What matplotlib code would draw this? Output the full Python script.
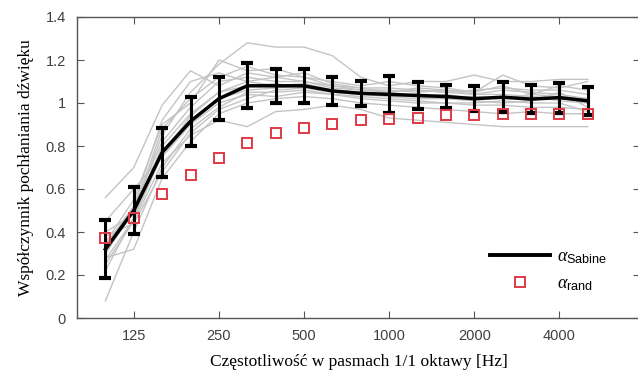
import numpy as np
import matplotlib
matplotlib.use("Agg")
import matplotlib.pyplot as plt
from matplotlib.lines import Line2D

plt.rcParams["mathtext.fontset"] = "custom"
plt.rcParams["mathtext.it"] = "Liberation Serif:italic"
plt.rcParams["mathtext.rm"] = "Liberation Sans"
plt.rcParams["mathtext.sf"] = "Liberation Sans"

# 1/3 octave bands
freqs = [100, 125, 160, 200, 250, 315, 400, 500, 630, 800,
         1000, 1250, 1600, 2000, 2500, 3150, 4000, 5000]
tick_labels = ["125", "250", "500", "1000", "2000", "4000"]
tick_freqs = [125, 250, 500, 1000, 2000, 4000]

alpha_sabine = [0.32, 0.50, 0.77, 0.915, 1.02, 1.08, 1.08, 1.08, 1.056, 1.045,
                1.04, 1.035, 1.03, 1.02, 1.027, 1.018, 1.025, 1.01]
alpha_err = [0.135, 0.11, 0.115, 0.115, 0.10, 0.105, 0.08, 0.08, 0.065, 0.057,
             0.085, 0.062, 0.055, 0.057, 0.07, 0.065, 0.07, 0.066]
alpha_rand = [0.372, 0.465, 0.577, 0.665, 0.744, 0.814, 0.860, 0.884, 0.902, 0.921,
              0.925, 0.930, 0.944, 0.944, 0.948, 0.950, 0.950, 0.950]

# single measurements (gray)
s1 = [0.30, 0.50, 0.85, 1.05, 1.18, 1.28, 1.26, 1.26, 1.22, 1.12, 1.08, 1.10, 1.10, 1.13, 1.10, 1.10, 1.11, 1.11]
s2 = [0.56, 0.70, 0.99, 1.15, 1.08, 1.14, 1.12, 1.10, 1.07, 1.06, 1.05, 1.06, 1.05, 1.04, 1.06, 1.05, 1.04, 1.02]
s3 = [0.25, 0.45, 0.72, 0.85, 0.92, 0.89, 0.96, 0.97, 0.99, 0.97, 0.93, 0.92, 0.91, 0.90, 0.89, 0.89, 0.89, 0.89]
s4 = [0.08, 0.40, 0.70, 0.88, 0.98, 1.05, 1.05, 1.06, 1.04, 1.02, 1.01, 1.00, 1.00, 0.99, 0.99, 0.98, 0.98, 0.97]
s5 = [0.28, 0.32, 0.65, 0.82, 0.95, 1.00, 1.02, 1.03, 1.02, 1.00, 0.99, 0.98, 0.97, 0.96, 0.95, 0.96, 0.95, 0.95]
s6 = [0.35, 0.55, 0.90, 1.00, 1.20, 1.15, 1.16, 1.12, 1.10, 1.08, 1.10, 1.08, 1.07, 1.05, 1.13, 1.08, 1.07, 1.10]
s7 = [0.40, 0.48, 0.80, 0.95, 1.05, 1.10, 1.08, 1.09, 1.06, 1.05, 1.04, 1.03, 1.04, 1.02, 1.03, 1.02, 1.03, 1.00]
s8 = [0.22, 0.47, 0.78, 0.92, 1.02, 1.06, 1.07, 1.08, 1.05, 1.04, 1.03, 1.02, 1.02, 1.01, 1.00, 1.01, 1.05, 0.98]
s9 = [0.32, 0.52, 0.82, 0.98, 1.10, 1.12, 1.10, 1.10, 1.08, 1.06, 1.06, 1.05, 1.06, 1.04, 1.04, 1.03, 1.02, 1.01]
s10 = [0.45, 0.60, 0.75, 0.90, 1.00, 1.04, 1.03, 1.05, 1.04, 1.03, 1.02, 1.01, 1.00, 1.00, 1.01, 1.00, 1.00, 0.96]
s11 = [0.38, 0.44, 0.68, 0.86, 0.97, 1.02, 1.06, 1.07, 1.06, 1.05, 1.03, 1.04, 1.03, 1.03, 1.02, 1.04, 1.03, 1.02]
s12 = [0.30, 0.50, 0.88, 1.02, 1.12, 1.17, 1.13, 1.12, 1.08, 1.07, 1.07, 1.06, 1.05, 1.06, 1.07, 1.06, 1.06, 1.04]
s13 = [0.27, 0.46, 0.76, 0.94, 1.05, 1.08, 1.09, 1.07, 1.05, 1.04, 1.05, 1.03, 1.02, 1.03, 1.02, 1.03, 1.01, 1.00]
s14 = [0.34, 0.52, 0.92, 1.10, 1.14, 1.10, 1.12, 1.14, 1.09, 1.07, 1.05, 1.07, 1.06, 1.05, 1.08, 1.04, 1.08, 1.06]
singles = [s1, s2, s3, s4, s5, s6, s7, s8, s9, s10, s11, s12, s13, s14]

x = np.arange(len(freqs))
tick_pos = [freqs.index(f) for f in tick_freqs]

fig = plt.figure(figsize=(6.38, 3.77), dpi=100)
ax = fig.add_axes([77/638, 59/377, 563/638, 301/377])

for s in singles:
    ax.plot(x, s, color="#c4c4c4", lw=1.0, zorder=1)

ax.errorbar(x, alpha_sabine, yerr=alpha_err, color="black", lw=2.5,
            elinewidth=2.2, capsize=4, capthick=3, zorder=3)
ax.plot(x, alpha_rand, ls="none", marker="s", ms=7, mfc="none", mec="#e03a44",
        mew=1.4, zorder=4)

ax.set_xlim(-1, 18.84)
ax.set_ylim(0, 1.4)
ax.set_xticks(tick_pos)
ax.set_xticklabels(tick_labels)
ax.set_yticks(np.arange(0, 1.41, 0.2))
ax.set_yticklabels(["0", "0.2", "0.4", "0.6", "0.8", "1", "1.2", "1.4"])

for sp in ax.spines.values():
    sp.set_color("#555555")
    sp.set_linewidth(1.0)
ax.spines["right"].set_visible(False)
ax.tick_params(direction="in", top=True, right=True, length=5, color="#555555",
               labelcolor="#404040", labelsize=10.5, pad=8)
for lab in ax.get_xticklabels() + ax.get_yticklabels():
    lab.set_family("Liberation Sans")

ax.set_xlabel("Częstotliwość w pasmach 1/1 oktawy [Hz]", family="Liberation Serif",
              fontsize=12.5, labelpad=8)
ax.set_ylabel("Współczynnik pochłaniania dźwięku", family="Liberation Serif",
              fontsize=12.5, labelpad=8)

handles = [Line2D([], [], color="black", lw=2.8),
           Line2D([], [], ls="none", marker="s", ms=7, mfc="none", mec="#e03a44", mew=1.4)]
labels = [r"$\mathit{\alpha}_{\mathsf{Sabine}}$", r"$\mathit{\alpha}_{\mathsf{rand}}$"]
ax.legend(handles, labels, loc="lower right", bbox_to_anchor=(0.97, 0.03), frameon=False,
          fontsize=13, handlelength=3.3, labelspacing=0.45, handletextpad=0.4)

fig.savefig("out.png", dpi=100)
